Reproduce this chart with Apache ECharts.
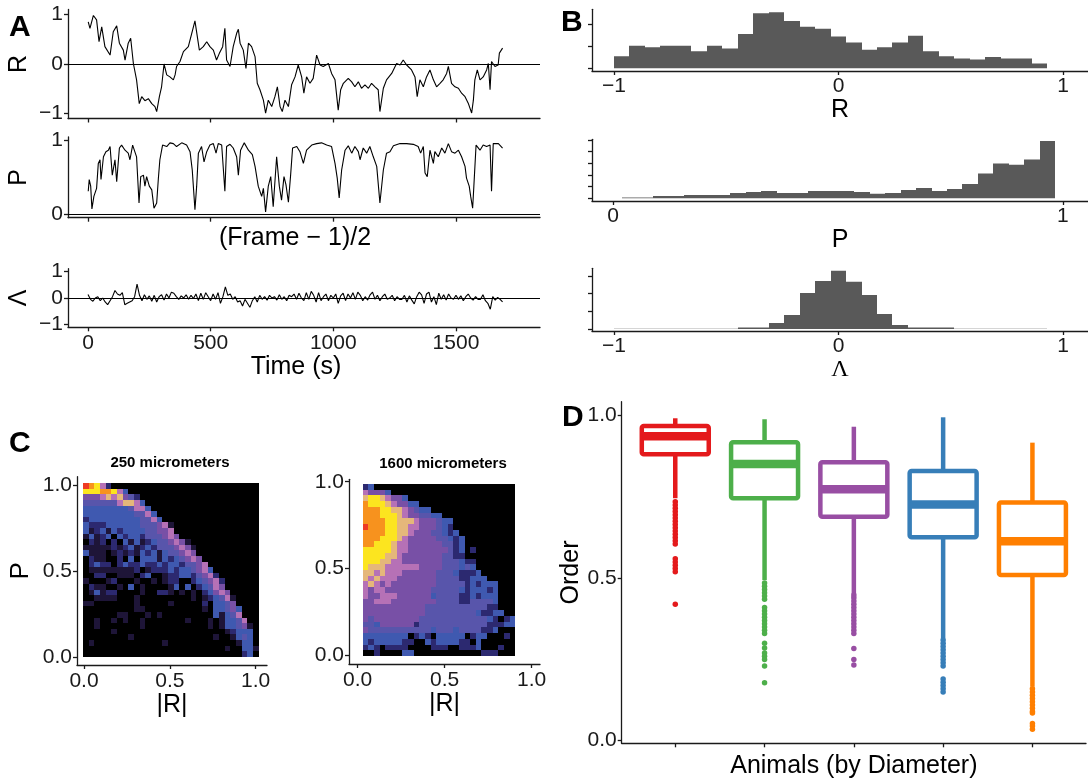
<!DOCTYPE html>
<html><head><meta charset="utf-8">
<script src="https://cdn.jsdelivr.net/npm/echarts@6/dist/echarts.min.js"></script>
<style>html,body{margin:0;padding:0;background:#fff}#c{width:1088px;height:784px}</style>
</head><body><div id="c"></div><script>
// ---------------- DATA ----------------
// Panel A time series (time in s, value)
const rTime = [1,8,22,35,45,56,69,76,90,103,117,128,144,151,164,174,185,198,209,219,232,246,260,273,280,291,300,310,321,334,348,355,361,375,389,409,423,436,443,454,470,484,497,511,524,535,549,558,565,579,592,606,613,620,633,644,654,667,681,690,701,715,724,735,749,762,772,783,792,803,817,830,844,857,871,880,891,905,918,932,946,959,980,993,1007,1020,1030,1041,1061,1075,1088,1102,1115,1129,1143,1156,1170,1183,1190,1204,1217,1238,1258,1272,1285,1299,1319,1333,1342,1353,1367,1380,1394,1408,1421,1435,1448,1462,1469,1482,1496,1510,1523,1537,1550,1564,1571,1577,1587,1598,1611,1625,1632,1639,1645,1659,1672,1677,1690];
const rVals = [0.85,0.72,0.98,0.89,0.45,0.75,0.35,0.38,0.18,0.65,0.77,0.42,0.28,0.08,0.42,0.52,0.01,-0.32,-0.80,-0.66,-0.74,-0.70,-0.80,-0.86,-0.96,-0.66,-0.46,0.00,-0.22,-0.26,-0.32,-0.22,-0.05,0.05,0.25,0.35,0.62,0.87,0.85,0.28,0.35,0.45,0.35,0.28,0.08,0.21,0.35,0.72,0.08,-0.05,0.35,0.62,0.70,0.42,0.28,-0.09,0.42,0.35,0.15,-0.39,-0.52,-0.73,-0.99,-0.73,-0.86,-0.66,-0.46,-0.86,-0.96,-0.73,-0.86,-0.42,-0.26,-0.02,-0.26,-0.59,-0.26,-0.39,-0.29,0.18,-0.02,-0.05,0.01,-0.19,-0.32,-0.93,-0.52,-0.39,-0.29,-0.36,-0.46,-0.36,-0.49,-0.42,-0.49,-0.39,-0.46,-0.52,-0.96,-0.49,-0.32,-0.19,0.01,-0.02,0.08,-0.02,-0.12,-0.26,-0.66,-0.32,-0.46,-0.26,-0.12,-0.32,-0.46,-0.39,-0.32,-0.19,-0.05,-0.39,-0.46,-0.49,-0.59,-0.66,-0.79,-0.99,-0.73,-0.32,-0.12,-0.32,-0.26,-0.12,0.01,-0.52,0.05,-0.05,-0.02,0.22,0.32];
const pTime = [1,5,11,16,24,35,42,49,53,63,73,83,90,99,110,117,128,137,151,164,171,182,189,198,208,215,226,232,239,250,260,269,280,287,293,304,321,334,348,361,382,402,416,425,436,443,450,463,473,484,497,511,522,531,545,558,565,579,592,606,613,622,637,654,670,681,694,708,715,724,735,745,755,769,780,789,799,807,817,826,834,851,864,878,891,912,932,952,973,993,1007,1016,1024,1034,1048,1061,1075,1088,1102,1109,1122,1136,1149,1163,1177,1190,1204,1217,1231,1245,1272,1299,1326,1346,1356,1367,1374,1383,1394,1408,1414,1428,1442,1455,1469,1482,1496,1510,1523,1537,1543,1554,1560,1568,1573,1582,1598,1611,1625,1639,1645,1652,1673,1690];
const pVals = [0.31,0.47,0.38,0.07,0.24,0.35,0.69,0.74,0.47,0.78,0.85,0.87,0.92,0.53,0.74,0.44,0.90,0.94,0.87,0.83,0.74,0.94,0.96,0.78,0.15,0.51,0.53,0.38,0.51,0.38,0.33,0.08,0.15,0.49,0.74,0.94,0.92,0.97,0.96,0.92,0.97,0.94,0.85,0.60,0.06,0.38,0.83,0.92,0.71,0.85,0.94,0.96,0.83,0.96,0.94,0.31,0.92,0.95,0.90,0.78,0.53,0.87,0.97,0.87,0.81,0.65,0.38,0.24,0.35,0.03,0.38,0.51,0.10,0.78,0.38,0.19,0.51,0.40,0.16,0.53,0.90,0.92,0.85,0.69,0.87,0.94,0.96,0.97,0.94,0.92,0.69,0.49,0.22,0.60,0.87,0.93,0.83,0.92,0.85,0.74,0.90,0.83,0.92,0.78,0.65,0.15,0.60,0.83,0.85,0.93,0.96,0.96,0.95,0.92,0.83,0.92,0.56,0.51,0.87,0.69,0.85,0.78,0.90,0.83,0.96,0.85,0.83,0.87,0.78,0.65,0.49,0.38,0.24,0.08,0.38,0.94,0.87,0.94,0.92,0.94,0.31,0.96,0.96,0.90];
const lamTime = [0,10,20,30,40,50,60,70,80,90,100,110,120,130,140,150,160,170,180,190,200,210,220,230,240,250,260,270,280,290,300,310,320,330,340,350,360,370,380,390,400,410,420,430,440,450,460,470,480,490,500,510,520,530,540,550,560,570,580,590,600,610,620,630,640,650,660,670,680,690,700,710,720,730,740,750,760,770,780,790,800,810,820,830,840,850,860,870,880,890,900,910,920,930,940,950,960,970,980,990,1000,1010,1020,1030,1040,1050,1060,1070,1080,1090,1100,1110,1120,1130,1140,1150,1160,1170,1180,1190,1200,1210,1220,1230,1240,1250,1260,1270,1280,1290,1300,1310,1320,1330,1340,1350,1360,1370,1380,1390,1400,1410,1420,1430,1440,1450,1460,1470,1480,1490,1500,1510,1520,1530,1540,1550,1560,1570,1580,1590,1600,1610,1620,1630,1640,1650,1660,1670,1680,1690];
const lamVals = [0.13,-0.05,-0.12,0.00,0.05,-0.10,0.00,-0.15,-0.25,-0.10,
0.05,0.28,0.15,0.10,0.20,-0.25,-0.20,-0.15,-0.10,0.05,
0.52,0.10,-0.10,0.12,-0.05,0.08,-0.12,0.10,-0.15,0.05,
0.12,-0.08,0.15,0.00,0.22,0.18,0.05,-0.05,0.08,0.00,
0.12,-0.05,0.10,-0.02,0.15,-0.10,0.18,-0.05,0.20,0.05,
-0.10,0.15,-0.05,0.20,-0.20,0.05,0.42,0.10,0.15,-0.05,
0.05,-0.15,-0.10,-0.30,-0.05,-0.20,-0.35,-0.10,0.05,-0.15,
0.10,-0.05,0.05,-0.08,0.10,0.00,0.05,-0.08,0.12,-0.05,
0.05,-0.10,0.10,0.05,0.15,-0.05,0.18,0.00,-0.10,0.20,
-0.05,0.25,0.10,-0.15,0.20,-0.10,0.05,0.15,-0.10,0.10,
0.00,0.15,-0.20,0.08,0.18,-0.10,0.15,0.00,0.20,-0.05,
0.22,0.10,-0.10,0.05,-0.08,0.12,0.22,-0.05,0.10,-0.10,
0.05,0.15,-0.05,0.00,0.10,-0.10,0.05,-0.05,-0.05,0.10,
-0.15,0.08,-0.08,-0.22,0.05,0.22,0.12,-0.20,0.15,0.22,
-0.15,0.05,-0.25,0.18,-0.05,0.12,-0.08,0.15,0.00,-0.05,
0.10,-0.05,0.08,-0.10,0.05,0.15,0.00,-0.08,0.05,-0.05,
-0.05,0.12,-0.10,-0.20,-0.42,0.05,-0.08,0.02,-0.05,-0.15];
const timeTicks = [0,500,1000,1500];

// Panel B histograms (bin start, bin width, counts)
const rHistStart = -1.0, rHistWidth = 0.0689;
const rHistCounts = [55,103,96,103,103,78,103,90,157,252,257,216,190,181,145,118,85,96,118,149,78,55,45,40,51,45,45,22];
const pHistStart = 0.02, pHistWidth = 0.0344;
const pHistCounts = [3,3,10,10,14,14,14,23,27,31,23,23,31,31,31,27,19,23,36,44,31,40,61,106,149,144,166,246];
const lHistStart = -1.0, lHistWidth = 0.0689;
const lHistCounts = [2,2,2,2,2,2,2,2,8,8,34,79,204,272,330,268,192,85,23,8,8,8,2,2,2,2,2,2];

// Panel C 2D histograms: level codes per cell, top row first ('.' = empty)
const heatPalette = ['#000000','#1e1538','#2c2970','#3f59b0','#5855ab','#7850a6','#b671b6','#e5b77a','#fce51f','#f7921e','#ee3a24'];
const heat250 = [
"a9862","88899863","5556767542","44444467763","333333334663","3333333334463","23333333334463",
"3222333333444561","3123132333344556","13123.32332444565",".212.2.313123445651","11111212312324445651",
"3111.121213231344565",".211..2.3.33313234565",".2322.2322322323324456",".111111112.122232334563",
"..22..111.23..1223324562","1...12...1..1.122..234562",".211..1.3.1....13.3.23465",".13122....1..221.1.1.23565",
"..1111...1.........1.123461","11.......1.....1.....2.3345",".........11..........1.33453","......11...1.1.........31346",
"..1..1.1..1.......1...1.13346","..1.......1...........1.133451",".....1...................12333","........1..............1..1343",
".1............1............133",".........................1..331","............................23."];
const heat1600 = [
"23","65553","78876553","9888765533","999887765433","99988876554433","9999887776555433",
"a999887766555432","99998877655544323","999888765555544323","998887665555554423","888887665555555423.2",
"888877655555554422","88877665555555444322","87776666665555444343","776766655555544432223",
"7676665555555444422333","676565555555544444232333","656655555555444443233323","655666555555344442232333",
"556665555555544442244443","555555555554444444444422","5555555555544444444432233","545555555544444444444432.23",
"443555555244444444444422233","544444444444344434444223","33333333.232.33333.233...2.","323333322..32333322.3......",
"232.2222....222..2223...2..","..2....33............222..."];
const heat250Bins = {xStart:-0.006, cw:0.033, yStart:0.0, ch:0.0326, cols:31};
const heat1600Bins = {xStart:0.029, cw:0.0325, yStart:-0.006, ch:0.0331, cols:27};

// Panel D box plots
const boxCats = [1,2,3,4,5];
const boxColors = ['#E41A1C','#4DAF4A','#984EA3','#377EB8','#FF7F00'];
const boxLow  = [0.746,0.494,0.452,0.315,0.166];
const boxQ1   = [0.881,0.746,0.689,0.626,0.510];
const boxMed  = [0.937,0.851,0.774,0.727,0.614];
const boxQ3   = [0.968,0.918,0.857,0.830,0.733];
const boxHigh = [0.992,0.989,0.966,0.995,0.917];
const outliers1 = [0.735,0.725,0.715,0.705,0.695,0.685,0.675,0.665,0.655,0.645,0.635,0.625,0.615,0.605,0.56,0.55,0.54,0.53,0.52,0.42];
const outliers2 = [0.485,0.475,0.465,0.455,0.445,0.435,0.41,0.40,0.39,0.38,0.37,0.36,0.35,0.34,0.33,0.30,0.285,0.27,0.26,0.25,0.23,0.178];
const outliers3 = [0.448,0.44,0.43,0.42,0.41,0.40,0.39,0.38,0.37,0.36,0.35,0.34,0.33,0.284,0.25,0.233];
const outliers4 = [0.31,0.30,0.29,0.28,0.27,0.26,0.25,0.24,0.23,0.19,0.18,0.17,0.16,0.15];
const outliers5 = [0.16,0.15,0.14,0.13,0.12,0.11,0.10,0.09,0.085,0.053,0.045,0.035];

// ---------------- CHART ----------------
const FONT = 'Liberation Sans, Arial, sans-serif';
const AXC = '#1a1a1a';
const minusFmt = v => String(v).replace('-', '\u2212');
const fix1 = v => Number(v).toFixed(1);

function axis(o){
  const a = {
    type:'value', gridIndex:o.g, min:o.min, max:o.max,
    axisLine:{show:true, onZero:false, lineStyle:{color:AXC, width:1.3}},
    axisTick:{show:true, length:4, customValues:o.ticks, lineStyle:{color:AXC, width:1.3}},
    axisLabel:{show:!!o.labels, customValues:o.ticks, formatter:o.fmt||minusFmt, color:'#1a1a1a',
      fontSize:o.fs||21, fontFamily:FONT, margin:o.margin||5},
    splitLine:{show:false}
  };
  if(o.name){
    a.name=o.name; a.nameLocation='middle'; a.nameGap=o.nameGap;
    a.nameTextStyle={fontSize:o.nfs||25, fontFamily:o.nff||FONT, color:'#000', padding:o.npad||0};
  }
  return a;
}
const zip = (a,b) => a.map((v,i)=>[v,b[i]]);
const hline = {silent:true, symbol:['none','none'], label:{show:false}, lineStyle:{color:'#000', width:1.2, type:'solid'}, data:[{yAxis:0}]};
function lineSeries(i, t, v){
  return {type:'line', xAxisIndex:i, yAxisIndex:i, data:zip(t,v), showSymbol:false, symbol:'none',
    lineStyle:{color:'#000', width:1.1}, markLine:hline, clip:true};
}
function histSeries(i, start, w, counts){
  const data = counts.map((c,k)=>[start+k*w, start+(k+1)*w, c]);
  return {type:'custom', xAxisIndex:i, yAxisIndex:i, data, encode:{x:[0,1], y:2}, clip:true,
    renderItem:(p, api)=>{
      const a = api.coord([api.value(0), 0]), b = api.coord([api.value(1), api.value(2)]);
      const x0 = Math.round(a[0]), x1 = Math.round(b[0]);
      return {type:'rect', shape:{x:x0, y:b[1], width:x1-x0, height:a[1]-b[1]}, style:{fill:'#595959'}};
    }};
}
function heatSeries(i, rows, bins){
  const n = rows.length, data = [];
  rows.forEach((row, r)=>{
    for(let c=0;c<bins.cols;c++){
      const chr = row[c] || '.';
      const lv = chr === '.' ? 0 : parseInt(chr, 16);
      const x0 = bins.xStart + c*bins.cw, y0 = bins.yStart + (n-1-r)*bins.ch;
      data.push([x0, y0, x0+bins.cw, y0+bins.ch, lv]);
    }
  });
  return {type:'custom', xAxisIndex:i, yAxisIndex:i, data, encode:{x:[0,2], y:[1,3]}, clip:true,
    renderItem:(p, api)=>{
      const a = api.coord([api.value(0), api.value(3)]), b = api.coord([api.value(2), api.value(1)]);
      const x0 = Math.round(a[0]), y0 = Math.round(a[1]), x1 = Math.round(b[0]), y1 = Math.round(b[1]);
      const col = heatPalette[api.value(4)];
      return {type:'rect', shape:{x:x0, y:y0, width:x1-x0, height:y1-y0}, style:{fill:col}};
    }};
}
const boxData = boxCats.map((c,k)=>[c, boxLow[k], boxQ1[k], boxMed[k], boxQ3[k], boxHigh[k]]);
const outlierSets = [outliers1, outliers2, outliers3, outliers4, outliers5];

const option = {
  animation:false,
  backgroundColor:'#fff',
  grid:[
    {left:68, top:9.5, width:472, height:109},
    {left:68, top:137, width:472, height:80.7},
    {left:68, top:268.7, width:472, height:58.6},
    {left:592, top:9.3, width:496, height:61.7},
    {left:592, top:139.3, width:496, height:61.7},
    {left:592, top:268.3, width:496, height:62.7},
    {left:77, top:476.7, width:190, height:188.3},
    {left:349, top:479.3, width:191, height:184.7},
    {left:621.7, top:401.7, width:464.3, height:341.6}
  ],
  xAxis:[
    axis({g:0, min:-81.5, max:1842.6, ticks:timeTicks}),
    axis({g:1, min:-81.5, max:1842.6, ticks:timeTicks, name:'(Frame \u2212 1)/2', nameGap:8, npad:[0,18,0,0]}),
    axis({g:2, min:-81.5, max:1842.6, ticks:timeTicks, labels:true, name:'Time (s)', nameGap:25, npad:[0,16,0,0]}),
    axis({g:3, min:-1.098, max:1.111, ticks:[-1,0,1], labels:true, name:'R', nameGap:26}),
    axis({g:4, min:-0.047, max:1.056, ticks:[0,1], labels:true, name:'P', nameGap:26}),
    axis({g:5, min:-1.098, max:1.111, ticks:[-1,0,1], labels:true, name:'\u039B', nameGap:26, nff:'Liberation Serif, DejaVu Serif, serif', nfs:24}),
    axis({g:6, min:-0.041, max:1.066, ticks:[0,0.5,1], labels:true, fmt:fix1, name:'|R|', nameGap:28, margin:6}),
    axis({g:7, min:-0.05, max:1.048, ticks:[0,0.5,1], labels:true, fmt:fix1, name:'|R|', nameGap:28, margin:6}),
    axis({g:8, min:0.4, max:5.6, ticks:[1,2,3,4,5], name:'Animals (by Diameter)', nameGap:10})
  ],
  yAxis:[
    axis({g:0, min:-1.1, max:1.1, ticks:[-1,0,1], labels:true, name:'R', nameGap:36}),
    axis({g:1, min:-0.05, max:1.05, ticks:[0,1], labels:true, name:'P', nameGap:36}),
    axis({g:2, min:-1.1, max:1.1, ticks:[-1,0,1], labels:true, name:'\u039B', nameGap:36}),
    axis({g:3, min:-12.85, max:270, ticks:[0,100,200]}),
    axis({g:4, min:-11.6, max:253, ticks:[0,50,100,150,200,250]}),
    axis({g:5, min:-11.3, max:343.6, ticks:[0,100,200,300]}),
    axis({g:6, min:-0.048, max:1.049, ticks:[0,0.5,1], labels:true, fmt:fix1, name:'P', nameGap:43, nfs:26}),
    axis({g:7, min:-0.052, max:1.014, ticks:[0,0.5,1], labels:true, fmt:fix1}),
    axis({g:8, min:-0.008, max:1.043, ticks:[0,0.5,1], labels:true, fmt:fix1, name:'Order', nameGap:35})
  ],
  series:[
    lineSeries(0, rTime, rVals),
    lineSeries(1, pTime, pVals),
    lineSeries(2, lamTime, lamVals),
    histSeries(3, rHistStart, rHistWidth, rHistCounts),
    histSeries(4, pHistStart, pHistWidth, pHistCounts),
    histSeries(5, lHistStart, lHistWidth, lHistCounts),
    heatSeries(6, heat250, heat250Bins),
    heatSeries(7, heat1600, heat1600Bins),
    {type:'custom', xAxisIndex:8, yAxisIndex:8, data:boxData, encode:{x:0, y:[1,2,3,4,5]},
      renderItem:(p, api)=>{
        const x=api.value(0), lo=api.value(1), q1=api.value(2), md=api.value(3), q3=api.value(4), hi=api.value(5);
        const col = boxColors[p.dataIndex], hw = 0.375;
        const tl=api.coord([x-hw,q3]), br=api.coord([x+hw,q1]);
        const cHi=api.coord([x,hi]), cLo=api.coord([x,lo]), cQ1=api.coord([x,q1]), cQ3=api.coord([x,q3]);
        const mL=api.coord([x-hw,md]), mR=api.coord([x+hw,md]);
        return {type:'group', children:[
          {type:'line', shape:{x1:cHi[0],y1:cHi[1],x2:cQ3[0],y2:cQ3[1]}, style:{stroke:col,lineWidth:4.5}},
          {type:'line', shape:{x1:cQ1[0],y1:cQ1[1],x2:cLo[0],y2:cLo[1]}, style:{stroke:col,lineWidth:4.5}},
          {type:'rect', shape:{x:tl[0],y:tl[1],width:br[0]-tl[0],height:br[1]-tl[1],r:2}, style:{stroke:col,fill:'#fff',lineWidth:4.5}},
          {type:'line', shape:{x1:mL[0]+1,y1:mL[1],x2:mR[0]-1,y2:mR[1]}, style:{stroke:col,lineWidth:8.5}}
        ]};
      }},
    {type:'scatter', xAxisIndex:8, yAxisIndex:8, symbolSize:5.5,
      data: outlierSets.flatMap((arr,k)=>arr.map(v=>[boxCats[k], v])),
      itemStyle:{color:p=>boxColors[p.value[0]-1], opacity:1}}
  ],
  graphic:[
    {type:'text', left:9, top:13, style:{text:'A', font:'bold 30px Liberation Sans', fill:'#000'}},
    {type:'text', left:561, top:8, style:{text:'B', font:'bold 30px Liberation Sans', fill:'#000'}},
    {type:'text', left:9, top:429, style:{text:'C', font:'bold 30px Liberation Sans', fill:'#000'}},
    {type:'text', left:562, top:403, style:{text:'D', font:'bold 30px Liberation Sans', fill:'#000'}},
    {type:'text', x:170, y:463, style:{text:'250 micrometers', font:'bold 15px Liberation Sans', fill:'#000', align:'center', verticalAlign:'middle'}},
    {type:'text', x:443, y:464, style:{text:'1600 micrometers', font:'bold 15px Liberation Sans', fill:'#000', align:'center', verticalAlign:'middle'}}
  ]
};
const chart = echarts.init(document.getElementById('c'), null, {renderer:'canvas'});
chart.setOption(option);
</script></body></html>
